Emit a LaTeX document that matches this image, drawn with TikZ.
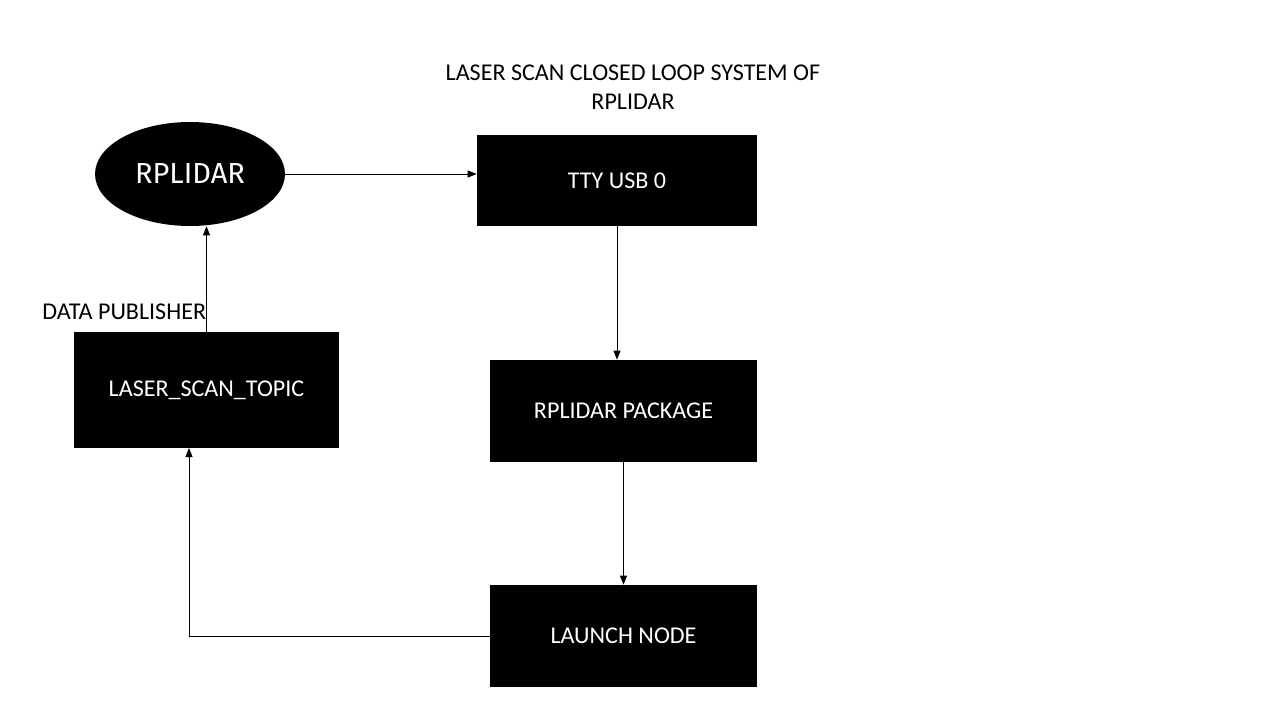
\documentclass[tikz,border=0pt]{standalone}
\usepackage{fontspec}
\setmainfont{Carlito}
\newfontfamily\lidarfont{Fira Sans}
\usetikzlibrary{arrows.meta,shapes.geometric}
\tikzstyle{blk}=[rectangle,fill=black,draw=none,text=white,
  font=\fontsize{13.7}{16}\selectfont]
\tikzstyle{ell}=[ellipse,fill=black,draw=none,text=white,inner sep=0pt,
  font=\lidarfont\fontsize{16.5}{18}\selectfont]
\tikzstyle{lbl}=[font=\fontsize{13.7}{16.4}\selectfont]
\tikzstyle{arr}=[-{Triangle[length=0.18cm,width=0.14cm]},line width=0.5pt]
\tikzstyle{none}=[]

\begin{document}
\begin{tikzpicture}[x=0.02cm, y=-0.02cm]
    \useasboundingbox (0, 0) rectangle (1280, 720);
    \node [style=lbl, align=center] (7) at (633, 87) {LASER SCAN CLOSED LOOP SYSTEM OF\\RPLIDAR};
    \node [style=ell, minimum width=3.8cm, minimum height=2.08cm] (1) at (190, 174) {RPLIDAR};
    \node [style=blk, minimum width=5.6cm, minimum height=1.82cm] (0) at (617, 180.5) {TTY USB 0};
    \node [style=blk, minimum width=5.34cm, minimum height=2.04cm] (2) at (623.5, 411) {RPLIDAR PACKAGE};
    \node [style=blk, minimum width=5.34cm, minimum height=2.04cm] (3) at (623.5, 636) {LAUNCH NODE};
    \node [style=blk, minimum width=5.3cm, minimum height=2.32cm] (4) at (206.5, 390) {LASER\_SCAN\_TOPIC};
    \node [style=lbl, anchor=west, inner sep=0pt] (6) at (42, 312) {DATA PUBLISHER};
    \coordinate (5) at (189, 448);
    \draw [style=arr] (1.east) to (1.east -| 0.west);
    \draw [style=arr] (0.south) to (0.south |- 2.north);
    \draw [style=arr] (2.south) to (3.north);
    \draw [style=arr] (3.west) -| (5);
    \draw [style=arr] (4.north) to (4.north |- 1.south);
\end{tikzpicture}
\end{document}
